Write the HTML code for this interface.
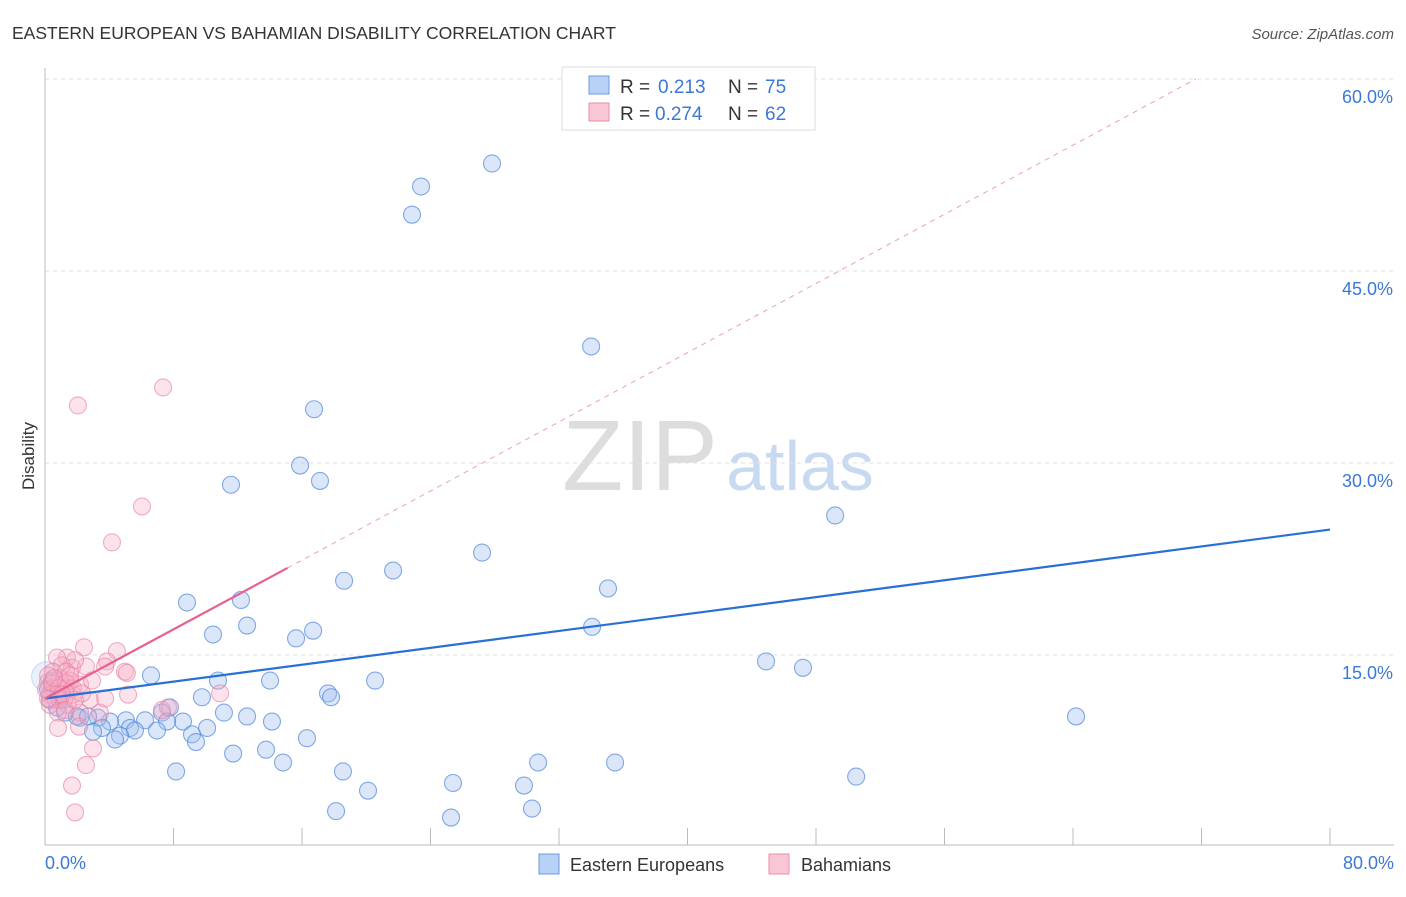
<!DOCTYPE html>
<html><head><meta charset="utf-8"><style>
body{margin:0;background:#fff;font-family:"Liberation Sans",sans-serif;}
svg text{font-family:"Liberation Sans",sans-serif;}
</style></head><body>
<svg width="1406" height="892">
<text x="12" y="39" font-size="17.5" fill="#333">EASTERN EUROPEAN VS BAHAMIAN DISABILITY CORRELATION CHART</text>
<text x="1394" y="39" font-size="15" fill="#555" font-style="italic" text-anchor="end">Source: ZipAtlas.com</text>
<text x="640" y="490" font-size="100" fill="#ddd" font-family="Liberation Serif" text-anchor="middle">ZIP</text>
<text x="800" y="490" font-size="70" fill="#c8daf2" text-anchor="middle">atlas</text>
<g id="grid"></g><g id="axes"></g><g id="marks"></g>
<text transform="translate(34,456) rotate(-90)" font-size="17" fill="#333" text-anchor="middle">Disability</text>
<text x="45" y="869" font-size="18" fill="#3b78d8">0.0%</text>
<text x="1394" y="869" font-size="18" fill="#3b78d8" text-anchor="end">80.0%</text>
<g>
<rect x="562" y="67" width="253" height="63" fill="#fff" stroke="#ddd"/>
<rect x="589" y="76" width="20" height="18" fill="#b8d2f5" stroke="#6a9be0"/>
<rect x="589" y="103" width="20" height="18" fill="#f9c6d5" stroke="#ea8fab"/>
<text x="620" y="93" font-size="19" fill="#333">R =</text>
<text x="658" y="93" font-size="19" fill="#3b78d8">0.213</text>
<text x="728" y="93" font-size="19" fill="#333">N =</text>
<text x="765" y="93" font-size="19" fill="#3b78d8">75</text>
<text x="620" y="120" font-size="19" fill="#333">R =</text>
<text x="655" y="120" font-size="19" fill="#3b78d8">0.274</text>
<text x="728" y="120" font-size="19" fill="#333">N =</text>
<text x="765" y="120" font-size="19" fill="#3b78d8">62</text>
</g>
<g>
<rect x="539" y="854" width="20" height="20" fill="#b8d2f5" stroke="#6a9be0"/>
<text x="570" y="871" font-size="18" fill="#333">Eastern Europeans</text>
<rect x="769" y="854" width="20" height="20" fill="#f9c6d5" stroke="#ea8fab"/>
<text x="801" y="871" font-size="18" fill="#333">Bahamians</text>
</g>
</svg>
<script>
const blueX=[27.83,23.41,22.85,34.0,16.75,15.88,17.12,11.58,49.19,27.21,21.67,18.62,35.05,8.84,12.2,12.58,16.69,10.46,15.63,34.06,44.89,47.19,6.6,10.77,14.01,20.55,17.62,17.81,9.77,7.78,7.28,64.19,11.14,12.58,8.59,6.23,7.6,5.04,4.05,3.3,2.18,1.25,0.75,0.31,0.19,3.55,2.99,5.29,5.6,6.97,10.09,9.15,9.4,4.67,4.36,14.13,16.31,11.71,13.76,14.82,18.55,8.16,30.7,35.49,25.4,29.82,50.5,20.11,18.12,30.32,25.28,1.99,2.68,0.93,0.44];
const blueY=[53.4,51.6,49.4,39.1,34.2,29.8,28.6,28.3,25.9,23.0,21.6,20.8,20.2,19.1,19.3,17.3,16.9,16.6,16.3,17.2,14.5,14.0,13.4,13.0,13.0,13.0,12.0,11.7,11.7,10.9,10.5,10.2,10.5,10.2,9.8,9.9,9.8,9.9,9.8,10.1,10.1,10.5,10.9,11.5,12.3,9.3,9.0,9.3,9.1,9.1,9.3,8.8,8.2,8.7,8.4,9.8,8.5,7.3,7.6,6.6,5.9,5.9,6.6,6.6,5.0,4.8,5.5,4.4,2.8,3.0,2.3,10.2,10.2,11.5,13.0];
const pinkX=[7.35,2.05,6.04,4.17,2.43,1.37,0.75,4.48,3.86,1.68,2.55,4.98,5.1,3.74,0.19,0.44,0.62,1.06,1.25,1.56,0.93,0.31,0.68,1.74,1.43,0.81,2.8,3.42,2.18,7.28,7.66,5.17,3.74,10.9,2.99,2.55,1.68,1.87,0.81,2.12,1.06,1.87,0.5,0.19,1.31,0.81,1.18,0.31,0.06,0.44,0.87,1.31,1.74,2.18,1.56,1.06,0.56,0.19,1.25,1.87,2.3,2.93];
const pinkY=[35.9,34.5,26.6,23.8,15.6,14.8,14.8,15.3,14.5,14.0,14.1,13.7,13.6,14.1,12.9,12.4,12.1,12.7,12.3,13.0,13.2,11.9,11.5,11.9,11.1,10.5,11.5,10.5,10.5,10.7,10.9,11.9,11.6,12.0,7.7,6.4,4.8,2.7,9.3,9.4,14.2,14.6,13.7,13.4,13.7,11.9,11.5,11.1,12.3,12.8,12.4,12.8,12.4,12.7,13.4,11.9,13.2,11.6,10.7,11.5,12.0,13.0];
const yTicks=[15,30,45,60];
const blueTrend=[11.6,24.8];
const pinkTrend=[11.6,21.8];
const pinkTrendEndX=15.1;
const X=v=>45+v*16.0625, Y=v=>847-v*12.8;
const ns="http://www.w3.org/2000/svg";
function mk(t,a,p){const e=document.createElementNS(ns,t);for(const k in a)e.setAttribute(k,a[k]);p.appendChild(e);return e;}
const grid=document.getElementById('grid'),axes=document.getElementById('axes'),marks=document.getElementById('marks');
yTicks.forEach(t=>{
 const l=mk('line',{x1:45,x2:1394,y1:Y(t),y2:Y(t),stroke:'#e2e2e2','stroke-dasharray':'4,4'},grid);
 
 
 const tx=mk('text',{x:1393,y:Y(t)+24,'font-size':18,fill:'#3b78d8','text-anchor':'end'},grid);
 tx.textContent=t.toFixed(1)+'%';
 
 
});
const xa=mk('line',{x1:45,x2:1394,y1:845,y2:845,stroke:'#bbb'},axes);


const ya=mk('line',{x1:45,x2:45,y1:68,y2:845,stroke:'#bbb'},axes);


for(let i=1;i<=10;i++){
 const t=mk('line',{x1:X(i*8),x2:X(i*8),y1:828,y2:845,stroke:'#bbb'},axes);
 
 
}
const big=mk('circle',{cx:X(0.1),cy:Y(13.3),r:15,fill:'rgba(170,200,240,0.25)',stroke:'rgba(120,160,225,0.35)'},marks);


blueX.forEach((x,i)=>{
 const c=mk('circle',{cx:X(x),cy:Y(blueY[i]),r:8.5,fill:'rgba(160,192,238,0.38)',stroke:'rgba(80,135,220,0.7)','stroke-width':1.1},marks);
 
 
});
pinkX.forEach((x,i)=>{
 const c=mk('circle',{cx:X(x),cy:Y(pinkY[i]),r:8.5,fill:'rgba(246,172,198,0.35)',stroke:'rgba(232,125,160,0.6)','stroke-width':1.1},marks);
 
 
});
const slope=(pinkTrend[1]-pinkTrend[0])/pinkTrendEndX;
const xEnd=(60-pinkTrend[0])/slope;
const pd=mk('line',{x1:X(pinkTrendEndX),y1:Y(pinkTrend[1]),x2:X(xEnd),y2:Y(60),stroke:'#eaa0b8','stroke-dasharray':'5,5'},marks);


const bl=mk('line',{x1:X(0),y1:Y(blueTrend[0]),x2:X(80),y2:Y(blueTrend[1]),stroke:'#2a6fd6','stroke-width':2.2},marks);


const pl=mk('line',{x1:X(0),y1:Y(pinkTrend[0]),x2:X(pinkTrendEndX),y2:Y(pinkTrend[1]),stroke:'#e8608e','stroke-width':2.2},marks);


</script>
</body></html>
